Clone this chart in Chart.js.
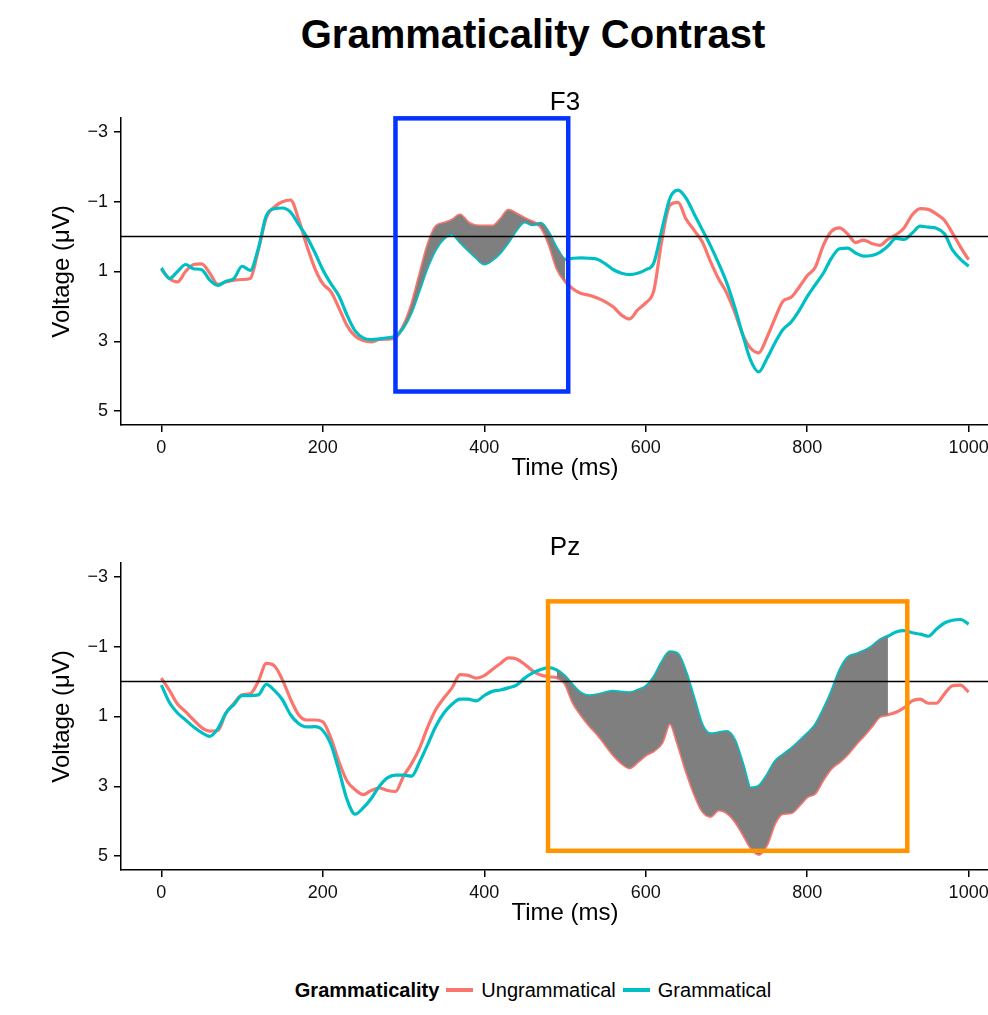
<!DOCTYPE html>
<html>
<head>
<meta charset="utf-8">
<script src="https://cdn.jsdelivr.net/npm/chart.js@4.4.1/dist/chart.umd.min.js"></script>
<style>
  body { margin:0; width:988px; height:1015px; overflow:hidden; background:#fff; font-family:"Liberation Sans", Arial, sans-serif; color:#000; }
  #wrap { position:relative; width:1066px; height:1015px; }
  .main-title { position:absolute; left:0; top:14px; width:1066px; text-align:center; font-weight:bold; font-size:40px; line-height:40px; }
  .panel-title { position:absolute; left:121px; width:888px; text-align:center; font-size:26px; line-height:26px; z-index:2; }
  .panel { position:absolute; left:0; width:1066px; height:385px; }
  .legend { position:absolute; top:979px; left:0; width:1066px; display:flex; justify-content:center; align-items:center; font-size:20px; line-height:22px; }
  .legend b { margin-right:7px; }
  .key { display:inline-block; width:27px; height:4px; margin-right:8px; }
</style>
</head>
<body>
<div id="wrap">
  <div class="main-title">Grammaticality Contrast</div>
  <div class="panel-title" style="top:88px">F3</div>
  <div class="panel" style="top:98px"><canvas id="f3" width="1066" height="385"></canvas></div>
  <div class="panel-title" style="top:533px">Pz</div>
  <div class="panel" style="top:543px"><canvas id="pz" width="1066" height="385"></canvas></div>
  <div class="legend">
    <b>Grammaticality</b>
    <span class="key" style="background:#F8766D"></span><span style="margin-right:7px">Ungrammatical</span>
    <span class="key" style="background:#00BFC4"></span><span>Grammatical</span>
  </div>
</div>
<script>
// time points (ms)
var times = [0,10,20,30,40,50,60,70,80,90,100,110,120,130,140,150,160,170,180,190,
  200,210,220,230,240,250,260,270,280,290,300,310,320,330,340,350,360,370,380,390,
  400,410,420,430,440,450,460,470,480,490,500,510,520,530,540,550,560,570,580,590,
  600,610,620,630,640,650,660,670,680,690,700,710,720,730,740,750,760,770,780,790,
  800,810,820,830,840,850,860,870,880,890,900,910,920,930,940,950,960,970,980,990,1000];

// F3 electrode (µV)
var f3Ungrammatical = [0.94,1.20,1.30,1.00,0.80,0.78,1.05,1.37,1.30,1.25,
  1.23,1.20,0.40,-0.55,-0.85,-1.00,-1.05,-0.50,0.25,0.90,
  1.35,1.58,2.05,2.55,2.85,2.98,3.02,2.95,2.94,2.90,
  2.55,1.95,1.10,0.25,-0.28,-0.38,-0.47,-0.62,-0.40,-0.31,
  -0.30,-0.30,-0.49,-0.75,-0.65,-0.52,-0.42,-0.28,0.20,0.90,
  1.28,1.50,1.63,1.68,1.76,1.87,2.02,2.25,2.36,2.10,
  1.90,1.55,0.10,-0.90,-0.98,-0.50,-0.18,0.15,0.70,1.20,
  1.60,2.15,2.80,3.20,3.33,2.90,2.35,1.85,1.74,1.45,
  1.12,0.88,0.25,-0.15,-0.25,-0.08,0.17,0.10,0.20,0.25,
  0.08,-0.05,-0.25,-0.62,-0.80,-0.78,-0.65,-0.47,-0.10,0.30,0.66];
var f3Grammatical = [0.90,1.20,1.00,0.80,0.92,0.95,1.25,1.40,1.28,1.20,
  0.85,0.97,0.35,-0.60,-0.80,-0.82,-0.70,-0.35,0.00,0.45,
  0.95,1.35,1.70,2.25,2.70,2.90,2.95,2.93,2.90,2.85,
  2.60,2.15,1.50,0.85,0.35,0.05,-0.08,0.15,0.38,0.60,
  0.78,0.66,0.45,0.15,-0.20,-0.42,-0.34,-0.38,-0.10,0.35,
  0.65,0.62,0.61,0.62,0.65,0.78,0.95,1.05,1.09,1.05,
  0.95,0.75,-0.20,-1.10,-1.33,-1.10,-0.65,-0.20,0.25,0.75,
  1.30,2.00,2.80,3.55,3.88,3.50,3.05,2.66,2.45,2.12,
  1.72,1.38,1.05,0.62,0.35,0.33,0.47,0.56,0.54,0.45,
  0.27,0.05,0.08,-0.10,-0.30,-0.27,-0.24,-0.08,0.38,0.65,0.85];

// Pz electrode (µV)
var pzUngrammatical = [-0.10,0.25,0.64,0.86,1.10,1.32,1.42,1.40,0.90,0.62,
  0.38,0.35,0.00,-0.52,-0.45,-0.05,0.50,0.95,1.10,1.10,
  1.15,1.62,2.30,2.85,3.10,3.24,3.12,3.05,3.12,3.15,
  2.71,2.35,1.90,1.30,0.80,0.47,0.18,-0.20,-0.18,-0.10,
  -0.17,-0.35,-0.52,-0.68,-0.65,-0.50,-0.31,-0.19,-0.14,-0.11,
  0.05,0.60,0.95,1.25,1.50,1.80,2.10,2.33,2.47,2.30,
  2.10,1.98,1.75,1.20,1.80,2.55,3.20,3.70,3.86,3.68,
  3.75,3.98,4.35,4.75,4.95,4.67,4.05,3.78,3.76,3.55,
  3.30,3.19,2.80,2.48,2.30,2.08,1.80,1.55,1.28,1.00,
  0.95,0.88,0.75,0.55,0.50,0.62,0.62,0.35,0.12,0.10,0.30];
var pzGrammatical = [0.10,0.60,0.90,1.10,1.30,1.46,1.57,1.35,0.90,0.65,
  0.40,0.40,0.38,0.08,0.25,0.52,0.95,1.20,1.30,1.29,
  1.40,1.80,2.55,3.38,3.80,3.62,3.35,3.00,2.76,2.68,
  2.68,2.71,2.30,1.80,1.28,0.90,0.65,0.50,0.50,0.55,
  0.40,0.28,0.24,0.18,0.10,-0.10,-0.25,-0.35,-0.40,-0.33,
  -0.15,0.12,0.34,0.41,0.38,0.32,0.28,0.31,0.32,0.25,
  0.15,-0.12,-0.55,-0.85,-0.78,-0.25,0.50,1.25,1.50,1.47,
  1.43,1.67,2.35,3.05,3.00,2.70,2.30,2.10,1.93,1.72,
  1.50,1.25,0.81,0.30,-0.30,-0.68,-0.78,-0.87,-1.00,-1.19,
  -1.30,-1.42,-1.46,-1.40,-1.36,-1.30,-1.50,-1.68,-1.76,-1.78,-1.65];

var xTicks = [0,200,400,600,800,1000];
var yTicks = [-3,-1,1,3,5];

// shaded difference windows (ms) and highlight boxes [t0, t1, v0, v1]
var f3Window = [290, 500];
var pzWindow = [490, 900];
var f3Box = [290, 504, -3.39, 4.44];
var pzBox = [479, 924, -2.30, 4.85];

var FONT = '"Liberation Sans", Arial, sans-serif';

var overlay = {
  id: 'overlay',
  afterDatasetsDraw: function(chart, args, opts) {
    var ctx = chart.ctx, area = chart.chartArea, x = chart.scales.x, y = chart.scales.y;
    ctx.save();
    ctx.strokeStyle = '#000';
    ctx.lineWidth = 1.5;
    var y0 = y.getPixelForValue(0);
    ctx.beginPath();
    ctx.moveTo(area.left, y0);
    ctx.lineTo(area.right, y0);
    ctx.stroke();
    var b = opts.box;
    var l = x.getPixelForValue(b[0]), r = x.getPixelForValue(b[1]);
    var t = y.getPixelForValue(b[2]), bt = y.getPixelForValue(b[3]);
    ctx.strokeStyle = opts.color;
    ctx.lineWidth = 4.5;
    ctx.strokeRect(l, t, r - l, bt - t);
    ctx.restore();
  }
};

function MakePanel(id, ungram, gram, win, box, boxColor){
  function pts(v){ return times.map(function(t, i){ return {x: t, y: v[i]}; }); }
  function inWin(v){ return pts(v).filter(function(p){ return p.x >= win[0] && p.x <= win[1]; }); }

  new Chart(document.getElementById(id), {
    type: 'line',
    data: {
      datasets: [
        { data: inWin(ungram), fill: '+1', backgroundColor: '#7f7f7f', borderWidth: 0, pointRadius: 0 },
        { data: inWin(gram), fill: false, borderWidth: 0, pointRadius: 0 },
        { label: 'Grammatical', data: pts(gram), borderColor: '#00BFC4', borderWidth: 3.2, pointRadius: 0, fill: false },
        { label: 'Ungrammatical', data: pts(ungram), borderColor: '#F8766D', borderWidth: 3.2, pointRadius: 0, fill: false }
      ]
    },
    options: {
      responsive: false,
      animation: false,
      layout: { padding: { left: 40, right: 57, top: 20, bottom: 0 } },
      elements: { line: { cubicInterpolationMode: 'monotone' } },
      plugins: {
        legend: { display: false },
        tooltip: { enabled: false },
        overlay: { box: box, color: boxColor }
      },
      scales: {
        x: {
          type: 'linear', min: -50, max: 1050,
          afterBuildTicks: function(s){ s.ticks = xTicks.map(function(v){ return {value: v}; }); },
          afterFit: function(s){ s.height = 58; },
          grid: { display: true, drawOnChartArea: false, drawTicks: true, tickLength: 7, color: '#000', lineWidth: 1.5 },
          border: { display: true, color: '#000', width: 1.5 },
          ticks: {
            color: '#111', font: { size: 18, family: FONT }, padding: 5, maxRotation: 0, autoSkip: false,
            callback: function(v){ return String(v); }
          },
          title: { display: true, text: 'Time (ms)', color: '#000', font: { size: 24, family: FONT }, padding: { top: 0, bottom: 0 } }
        },
        y: {
          type: 'linear', min: -3.4, max: 5.4, reverse: true,
          afterBuildTicks: function(s){ s.ticks = yTicks.map(function(v){ return {value: v}; }); },
          afterFit: function(s){ s.width = 81; },
          grid: { display: true, drawOnChartArea: false, drawTicks: true, tickLength: 7, color: '#000', lineWidth: 1.5 },
          border: { display: true, color: '#000', width: 1.5 },
          ticks: {
            color: '#111', font: { size: 18, family: FONT }, padding: 6,
            callback: function(v){ return String(v).replace('-', '\u2212'); }
          },
          title: { display: true, text: 'Voltage (\u03BCV)', color: '#000', font: { size: 24, family: FONT }, padding: { top: 8, bottom: 0 } }
        }
      }
    },
    plugins: [overlay]
  });
}

MakePanel('f3', f3Ungrammatical, f3Grammatical, f3Window, f3Box, '#0433FF');
MakePanel('pz', pzUngrammatical, pzGrammatical, pzWindow, pzBox, '#FF9300');
</script>
</body>
</html>
